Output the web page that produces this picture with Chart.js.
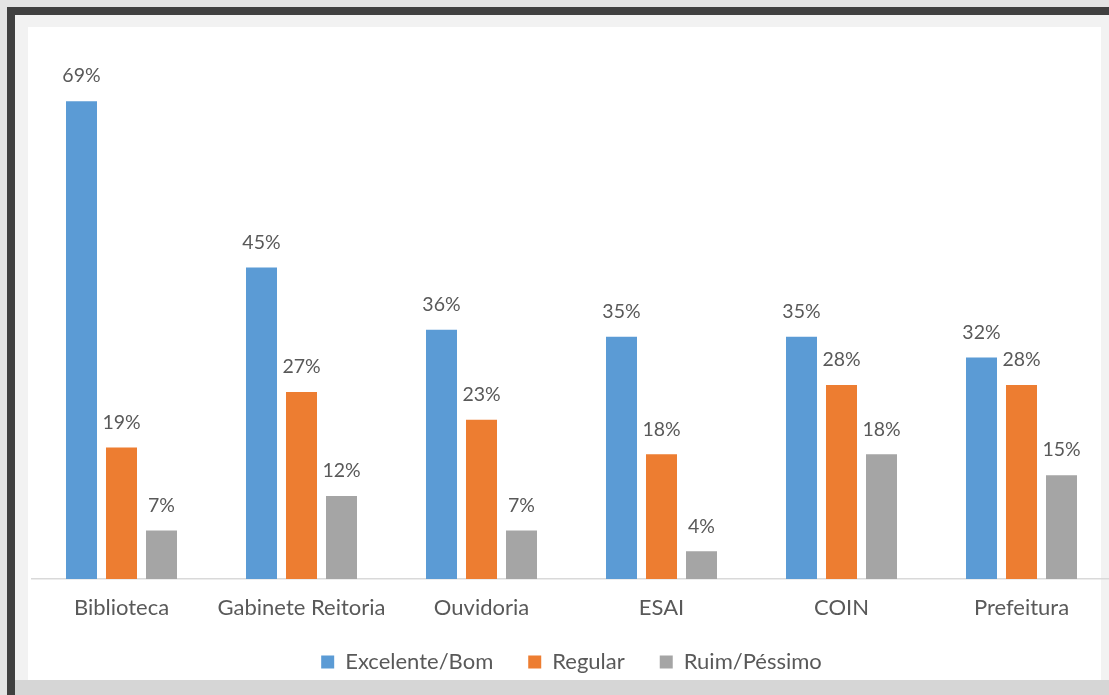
<!DOCTYPE html>
<html>
<head>
<meta charset="utf-8">
<script src="https://cdn.jsdelivr.net/npm/chart.js@4.4.1/dist/chart.umd.min.js"></script>
<style>
  html, body { margin:0; padding:0; width:1109px; height:695px; overflow:hidden; background:#e4e4e4; }
  #frameTop { position:absolute; left:7px; top:7px; width:1102px; height:8px; background:#404040; }
  #frameLeft { position:absolute; left:7px; top:7px; width:8px; height:688px; background:#404040; }
  #inner { position:absolute; left:15px; top:15px; width:1094px; height:680px; background:#f2f2f2; }
  #bottomStrip { position:absolute; left:15px; top:680px; width:1094px; height:15px; background:#d6d6d6; }
  #panel { position:absolute; left:28px; top:27px; width:1073px; height:653px; background:#ffffff; }
  #wrap { position:absolute; left:0; top:0; width:1120px; height:720px; }
</style>
</head>
<body>
<div id="frameTop"></div>
<div id="frameLeft"></div>
<div id="inner"></div>
<div id="bottomStrip"></div>
<div id="panel"></div>
<div id="wrap"><canvas id="c" width="1120" height="720"></canvas></div>
<script>
const categories = ['Biblioteca', 'Gabinete Reitoria', 'Ouvidoria', 'ESAI', 'COIN', 'Prefeitura'];
const excelenteBom = [69, 45, 36, 35, 35, 32];
const regular = [19, 27, 23, 18, 28, 28];
const ruimPessimo = [7, 12, 7, 4, 18, 15];
const seriesNames = ['Excelente/Bom', 'Regular', 'Ruim/Péssimo'];

const TEXT = '#595959';
const FONT = 'Lato';

const barLabels = {
  id: 'barLabels',
  afterDatasetsDraw(chart) {
    const ctx = chart.ctx;
    ctx.save();
    ctx.font = '19.5px ' + FONT;
    ctx.fillStyle = TEXT;
    ctx.textAlign = 'center';
    ctx.textBaseline = 'middle';
    chart.data.datasets.forEach((ds, i) => {
      chart.getDatasetMeta(i).data.forEach((bar, j) => {
        ctx.fillText(ds.data[j] + '%', bar.x, bar.y - 25);
      });
    });
    ctx.restore();
  }
};

new Chart(document.getElementById('c'), {
  type: 'bar',
  data: {
    labels: categories,
    datasets: [
      { label: seriesNames[0], data: excelenteBom, backgroundColor: '#5b9bd5' },
      { label: seriesNames[1], data: regular, backgroundColor: '#ed7d31' },
      { label: seriesNames[2], data: ruimPessimo, backgroundColor: '#a5a5a5' }
    ]
  },
  options: {
    responsive: false,
    animation: false,
    devicePixelRatio: 1,
    categoryPercentage: 0.6667,
    barPercentage: 0.775,
    layout: { padding: { left: 31.5, right: 8.5, top: 25, bottom: 37 } },
    plugins: {
      tooltip: { enabled: false },
      legend: {
        position: 'bottom',
        labels: {
          boxWidth: 13, boxHeight: 13, padding: 35,
          color: TEXT,
          font: { family: FONT, size: 22 }
        }
      }
    },
    scales: {
      x: {
        grid: { display: false },
        border: { display: true, color: '#d9d9d9', width: 1.5 },
        ticks: { color: TEXT, font: { family: FONT, size: 22 }, padding: 8, maxRotation: 0, autoSkip: false },
        afterFit: (scale) => { scale.height = 37; }
      },
      y: {
        display: false,
        min: 0,
        max: 80
      }
    }
  },
  plugins: [barLabels]
});
</script>
</body>
</html>
